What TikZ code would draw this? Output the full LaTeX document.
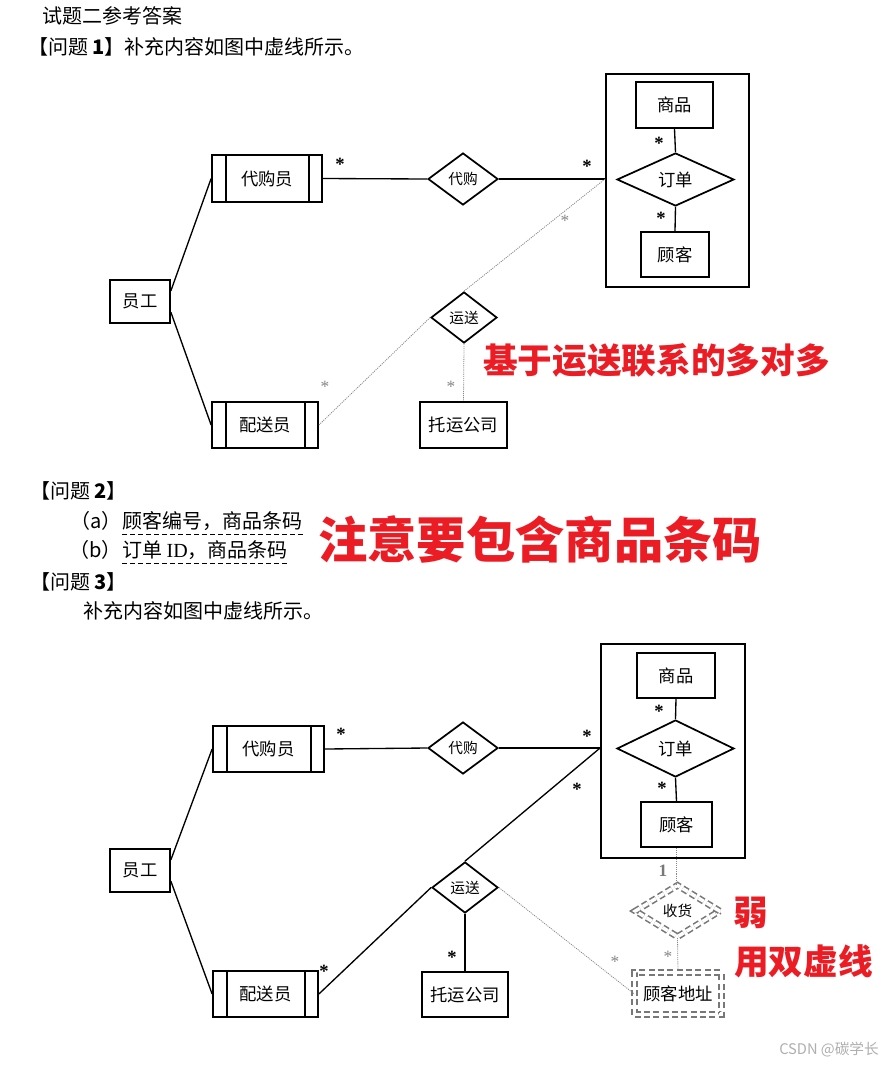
\documentclass[tikz,border=0pt]{standalone}
\usepackage{fontspec}
\setmainfont{Liberation Serif}
\newfontfamily\cjk{Noto Sans CJK SC}
\usetikzlibrary{shapes.geometric}
\definecolor{redtxt}{RGB}{236,28,36}
\definecolor{dotgray}{RGB}{135,135,135}
\definecolor{weakgray}{RGB}{120,120,120}
\definecolor{wmgray}{RGB}{175,175,175}
\tikzset{
  ent/.style={draw, line width=1.3pt, rectangle, inner sep=0pt, font=\cjk\fontsize{13}{13}\selectfont},
  entv/.style={ent, path picture={
      \draw[line width=1.3pt] ([xshift=10.5pt]path picture bounding box.north west) -- ([xshift=10.5pt]path picture bounding box.south west);
      \draw[line width=1.3pt] ([xshift=-9.75pt]path picture bounding box.north east) -- ([xshift=-9.75pt]path picture bounding box.south east);}},
  agg/.style={draw, line width=1.4pt, rectangle, inner sep=0pt},
  rel/.style={draw, line width=1.3pt, diamond, inner sep=0pt, font=\cjk\fontsize{11}{11}\selectfont},
  relb/.style={rel, font=\cjk\fontsize{13}{13}\selectfont},
  weakrel/.style={diamond, draw=weakgray, double, double distance=2.6pt, line width=1.2pt, dash pattern=on 4.5pt off 2.5pt, inner sep=0pt, font=\cjk\fontsize{11}{11}\selectfont},
  weakent/.style={rectangle, draw=weakgray, double, double distance=2.6pt, line width=1.2pt, dash pattern=on 4.5pt off 2.5pt, inner sep=0pt, font=\cjk\fontsize{13}{13}\selectfont},
  conn/.style={line width=1pt},
  dotc/.style={draw=dotgray, line width=0.6pt, dash pattern=on 0.8pt off 0.8pt},
  bstar/.style={inner sep=0pt, anchor=north, font=\bfseries\fontsize{14}{14}\selectfont},
  gstar/.style={inner sep=0pt, anchor=north, text=dotgray, font=\fontsize{13}{13}\selectfont},
  txt/.style={inner sep=0pt, anchor=west, font=\cjk\fontsize{15}{15}\selectfont},
  uline/.style={line width=0.8pt, dash pattern=on 4pt off 2pt},
  redt/.style={inner sep=0pt, text=redtxt, font=\cjk\bfseries\fontsize{26}{26}\selectfont},
}
\begin{document}
\begin{tikzpicture}[x=0.75pt,y=-0.75pt]
\path[use as bounding box, fill=white] (0,0) rectangle (894,1072);

% ---------- header texts ----------
\node[txt] (h0) at (42,16) {试题二参考答案};
\node[txt] (h1) at (28,47) {【问题 \textbf{1}】补充内容如图中虚线所示。};

% ---------- diagram 1 ----------
\node[ent, minimum width=45pt, minimum height=32.25pt] (yg1) at (140,301.5) {员工};
\node[entv, minimum width=82.5pt, minimum height=35.25pt] (dgy1) at (267,178.5) {代购员};
\node[entv, minimum width=79.5pt, minimum height=34.5pt] (psy1) at (265,425) {配送员};
\node[rel, minimum width=52.5pt, minimum height=39pt] (dg1) at (463,179) {代购};
\node[rel, minimum width=49.5pt, minimum height=38.25pt] (ys1) at (464,317.5) {运送};
\node[ent, minimum width=65.25pt, minimum height=34.5pt] (ty1) at (463.5,425) {托运公司};
\node[agg, minimum width=107.25pt, minimum height=159.75pt] (ag1) at (677.5,180.5) {};
\node[ent, minimum width=57.75pt, minimum height=34.5pt] (sp1) at (674.5,105) {商品};
\node[relb, minimum width=87.75pt, minimum height=39.75pt] (dd1) at (675.5,179.5) {订单};
\node[ent, minimum width=51pt, minimum height=33.75pt] (gk1) at (675,254.5) {顾客};
\coordinate (p1) at (dg1.east -| ag1.west);

\draw[conn] ([yshift=8pt]yg1.east) -- (dgy1.west);
\draw[conn] ([yshift=-8pt]yg1.east) -- (psy1.west);
\draw[conn] (dgy1.east) -- (dg1.west);
\draw[conn] (dg1.east) -- (p1);
\draw[conn] (sp1.south) -- (dd1.north);
\draw[conn] (dd1.south) -- (gk1.north);
\draw[dotc] (ys1.north) -- (p1);
\draw[dotc] (ys1.west) -- (psy1.east);
\draw[dotc] (ys1.south) -- (ty1.north);

\node[bstar] (s11) at (340,158) {*};
\node[bstar] (s12) at (587,160) {*};
\node[bstar] (s13) at (659,137) {*};
\node[bstar] (s14) at (661,212) {*};
\node[gstar] (s15) at (565,215) {*};
\node[gstar] (s16) at (325,381) {*};
\node[gstar] (s17) at (451,381) {*};

\node[redt] (r1) at (656.5,360.5) {基于运送联系的多对多};

% ---------- question 2 / 3 ----------
\node[txt] (h2) at (30,491) {【问题 \textbf{2}】};
\node[txt] (a2) at (122,521) {顾客编号，商品条码};
\node[txt, anchor=east] (a1) at (a2.west) {（a）};
\draw[uline] ([yshift=-2.5pt]a2.south west) -- ([yshift=-2.5pt]a2.south east);
\node[txt] (b2) at (122,550) {订单 {\rmfamily ID}，商品条码};
\node[txt, anchor=east] (b1) at (b2.west) {（b）};
\draw[uline] ([yshift=-2.5pt]b2.south west) -- ([yshift=-2.5pt]b2.south east);
\node[txt] (h3) at (30,582) {【问题 \textbf{3}】};
\node[txt] (h4) at (83,611) {补充内容如图中虚线所示。};
\node[redt, font=\cjk\bfseries\fontsize{37}{37}\selectfont] (r2) at (540,539) {注意要包含商品条码};

% ---------- diagram 2 ----------
\node[ent, minimum width=45pt, minimum height=32.25pt] (yg2) at (140,870.5) {员工};
\node[entv, minimum width=83.25pt, minimum height=34.5pt] (dgy2) at (268.5,749) {代购员};
\node[entv, minimum width=78.75pt, minimum height=34.5pt] (psy2) at (265.5,994) {配送员};
\node[rel, minimum width=52.5pt, minimum height=39pt] (dg2) at (463,748) {代购};
\node[agg, minimum width=108pt, minimum height=160.5pt] (ag2) at (673,751) {};
\node[ent, minimum width=58.5pt, minimum height=33.75pt] (sp2) at (676,675.5) {商品};
\node[relb, minimum width=87.75pt, minimum height=42.75pt] (dd2) at (675.5,748.5) {订单};
\node[ent, minimum width=53.25pt, minimum height=33.75pt] (gk2) at (676.5,824.5) {顾客};
\node[rel, minimum width=49.5pt, minimum height=38.25pt] (ys2) at (465,887.5) {运送};
\node[ent, minimum width=64.5pt, minimum height=33.75pt] (ty2) at (465,994.5) {托运公司};
\node[weakrel, minimum width=63.75pt, minimum height=39pt] (sh) at (677.5,911) {收货};
\node[weakent, minimum width=65.25pt, minimum height=31.5pt] (dz) at (678,993.5) {顾客地址};
\coordinate (p2) at (dg2.east -| ag2.west);

\draw[conn] ([yshift=8pt]yg2.east) -- (dgy2.west);
\draw[conn] ([yshift=-8pt]yg2.east) -- (psy2.west);
\draw[conn] (dgy2.east) -- (dg2.west);
\draw[conn] (dg2.east) -- (p2);
\draw[conn] (ys2.north) -- (p2);
\draw[conn] (ys2.west) -- (psy2.east);
\draw[conn] (ys2.south) -- (ty2.north);
\draw[conn] (sp2.south) -- (dd2.north);
\draw[conn] (dd2.south) -- (gk2.north);
\draw[dotc] (ys2.east) -- (dz.west);
\draw[dotc] (gk2.south) -- (gk2.south |- sh.north);
\draw[dotc] (sh.south) -- (dz.north);

\node[bstar] (s21) at (341,728) {*};
\node[bstar] (s22) at (587,730) {*};
\node[bstar] (s23) at (659,705) {*};
\node[bstar] (s24) at (662,782) {*};
\node[bstar] (s25) at (577,783) {*};
\node[bstar] (s26) at (324,965) {*};
\node[bstar] (s27) at (452,951) {*};
\node[gstar] (s28) at (615,956) {*};
\node[gstar] (s29) at (668,951) {*};
\node[inner sep=0pt, text=weakgray, font=\bfseries\fontsize{13}{13}\selectfont] (one) at (663,871) {1};

\node[redt] (r3) at (751,912.5) {弱};
\node[redt] (r4) at (803.5,961) {用双虚线};

\node[inner sep=0pt, anchor=west, text=wmgray, font=\cjk\fontsize{11}{11}\selectfont] (wm) at (779,1050) {CSDN @碳学长};
\end{tikzpicture}
\end{document}
